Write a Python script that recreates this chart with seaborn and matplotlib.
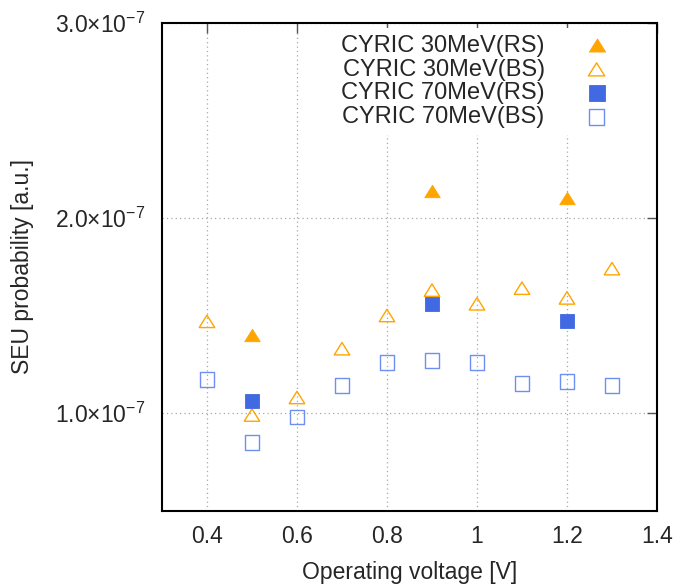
import matplotlib
matplotlib.use("Agg")
import matplotlib.pyplot as plt
from matplotlib.path import Path
import pandas as pd
import seaborn as sns

# Operating voltages [V]
v_rs = [0.5, 0.9, 1.2]
v_bs = [0.4, 0.5, 0.6, 0.7, 0.8, 0.9, 1.0, 1.1, 1.2, 1.3]

# SEU probability [a.u.], in units of 1e-7
cyric30_rs = [1.40, 2.14, 2.10]
cyric30_bs = [1.47, 0.99, 1.08, 1.33, 1.50, 1.63, 1.56, 1.64, 1.59, 1.74]
cyric70_rs = [1.06, 1.56, 1.47]
cyric70_bs = [1.17, 0.85, 0.98, 1.14, 1.26, 1.27, 1.26, 1.15, 1.16, 1.14]

labels = ["CYRIC 30MeV(RS)", "CYRIC 30MeV(BS)", "CYRIC 70MeV(RS)", "CYRIC 70MeV(BS)"]

x_ticks = [0.4, 0.6, 0.8, 1.0, 1.2, 1.4]
x_ticklabels = ["0.4", "0.6", "0.8", "1", "1.2", "1.4"]
y_ticks = [1.0e-7, 2.0e-7, 3.0e-7]
y_ticklabels = [r"$\mathregular{1.0{\times}10^{-7}}$",
                r"$\mathregular{2.0{\times}10^{-7}}$",
                r"$\mathregular{3.0{\times}10^{-7}}$"]

sns.set_style("white")
plt.rcParams["font.family"] = ["Liberation Sans", "DejaVu Sans"]
plt.rcParams["mathtext.fontset"] = "custom"
plt.rcParams["mathtext.rm"] = "Liberation Sans"
plt.rcParams["mathtext.it"] = "Liberation Sans:italic"
plt.rcParams["mathtext.bf"] = "Liberation Sans:bold"

frames = []
for name, xs, ys in [(labels[0], v_rs, cyric30_rs), (labels[1], v_bs, cyric30_bs),
                     (labels[2], v_rs, cyric70_rs), (labels[3], v_bs, cyric70_bs)]:
    frames.append(pd.DataFrame({"voltage": xs,
                                "prob": [y * 1e-7 for y in ys],
                                "series": name}))
df = pd.concat(frames, ignore_index=True)

# gnuplot-like wide triangle
tri = Path([(-1.0, -0.8), (1.0, -0.8), (0.0, 0.8), (-1.0, -0.8)],
           [Path.MOVETO, Path.LINETO, Path.LINETO, Path.CLOSEPOLY])

orange = "#FFA500"
blue = "#4169E1"
blue_light = "#6f8ff0"
styles = {
    labels[0]: dict(marker=tri, s=125, color=orange, edgecolor=orange, linewidth=0.6),
    labels[1]: dict(marker=tri, s=125, facecolors="none", edgecolor=orange, linewidth=1.0),
    labels[2]: dict(marker="s", s=115, color=blue, edgecolor=blue, linewidth=0.6),
    labels[3]: dict(marker="s", s=115, facecolors="none", edgecolor=blue_light, linewidth=1.0),
}

fig = plt.figure(figsize=(6.82, 5.87), dpi=100)
ax = fig.add_axes([0.2375, 0.130, 0.7258, 0.8313])

for name in labels:
    sub = df[df["series"] == name]
    sns.scatterplot(data=sub, x="voltage", y="prob", ax=ax, label=name,
                    zorder=3, **styles[name])

ax.set_xlim(0.3, 1.4)
ax.set_ylim(0.5e-7, 3.0e-7)
ax.set_xticks(x_ticks)
ax.set_xticklabels(x_ticklabels)
ax.set_yticks(y_ticks)
ax.set_yticklabels(y_ticklabels)

ax.grid(True, linestyle=(0, (1, 2.5)), color="#a8a8a8", linewidth=0.9)
ax.set_axisbelow(True)
ax.tick_params(axis="both", which="major", direction="in", length=7, width=1,
               color="#555555", top=True, right=True, labelsize=16.5, pad=10)
ax.tick_params(axis="y", pad=12)
for sp in ax.spines.values():
    sp.set_color("black")
    sp.set_linewidth(1.5)
    sp.set_zorder(4)

ax.set_xlabel("Operating voltage [V]", fontsize=16.5, labelpad=10)
ax.set_ylabel("SEU probability [a.u.]", fontsize=16.5, labelpad=15)

leg = ax.legend(loc="upper right", bbox_to_anchor=(0.94, 0.99), borderaxespad=0,
                markerfirst=False, frameon=True, fancybox=False, framealpha=1,
                edgecolor="none", facecolor="white", fontsize=17,
                labelspacing=0.08, handletextpad=1.2, handlelength=2.0,
                borderpad=0.3, markerscale=1.05)
leg.set_zorder(2)

fig.savefig("out.png", dpi=100)
